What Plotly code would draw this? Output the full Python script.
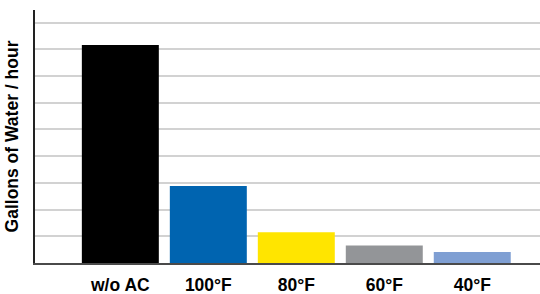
import plotly.graph_objects as go

categories = ["w/o AC", "100°F", "80°F", "60°F", "40°F"]
values = [8.16, 2.88, 1.15, 0.66, 0.41]
colors = ["#000000", "#0064B0", "#FFE500", "#939598", "#7F9FD3"]

fig = go.Figure(go.Bar(x=categories, y=values, marker=dict(color=colors, line=dict(width=0)), width=0.875))

fig.update_layout(
    width=540, height=294,
    margin=dict(l=35, r=0, t=10, b=31, autoexpand=False),
    paper_bgcolor="white", plot_bgcolor="white",
    showlegend=False,
    font=dict(family="Liberation Sans, Arial, sans-serif", color="black"),
)
fig.update_xaxes(
    automargin=False,
    range=[-0.97, 4.77],
    showline=True, linecolor="#4a4a4a", linewidth=2,
    showgrid=False, ticks="", ticklabelstandoff=5,
    tickfont=dict(size=17.5, family="Liberation Sans, Arial, sans-serif", weight="bold", color="black"),
)
fig.update_yaxes(
    automargin=False,
    range=[0, 9.475], dtick=1, tick0=0,
    showticklabels=False, ticks="",
    showgrid=True, gridcolor="#d2d2d2", gridwidth=1.5,
    showline=True, linecolor="#222222", linewidth=1.5,
    zeroline=False,
    title=dict(text="Gallons of Water / hour", standoff=10,
               font=dict(size=17.5, family="Liberation Sans, Arial, sans-serif", weight="bold", color="black")),
)

fig.write_html("out.html", config={"displayModeBar": False},
               post_script="document.body.style.margin='0';document.body.style.overflow='hidden';")
